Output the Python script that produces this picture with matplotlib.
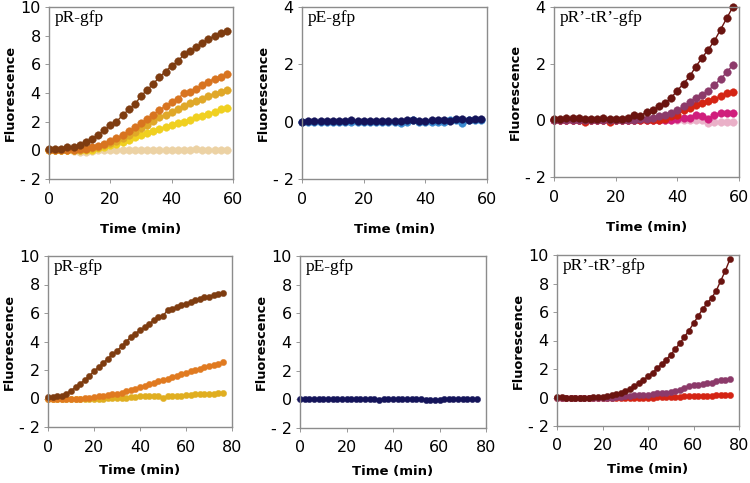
import numpy as np
import matplotlib
matplotlib.use('Agg')
import matplotlib.pyplot as plt

# time points (min)
t_top = np.arange(0, 60, 2)      # 0..58, 30 points
t_bot = np.arange(0, 78, 2)      # 0..76, 39 points

# ---- top row ----
# pR-gfp
pr1_tan = [0.05, 0.05, 0.0, 0.0, -0.05, -0.1, -0.1, -0.05, 0.0, 0.05, 0.05, 0.05, 0.0, 0.0, 0.0,
           0.0, 0.0, 0.0, 0.0, 0.0, 0.05, 0.05, 0.05, 0.05, 0.1, 0.05, 0.05, 0.05, 0.05, 0.0]
pr1_yellow = [0.05, 0.05, 0.05, 0.0, 0.0, 0.0, 0.05, 0.05, 0.15, 0.25, 0.35, 0.45, 0.6, 0.75, 0.9,
              1.05, 1.2, 1.35, 1.5, 1.65, 1.8, 1.9, 2.0, 2.15, 2.3, 2.4, 2.55, 2.7, 2.85, 2.95]
pr1_gold = [0.05, 0.05, 0.05, 0.05, 0.05, 0.05, 0.1, 0.15, 0.2, 0.35, 0.5, 0.65, 0.85, 1.05, 1.3,
            1.55, 1.8, 2.05, 2.3, 2.5, 2.7, 2.9, 3.1, 3.3, 3.45, 3.6, 3.8, 3.95, 4.1, 4.2]
pr1_orange = [0.05, 0.05, 0.05, 0.05, 0.05, 0.1, 0.1, 0.2, 0.3, 0.45, 0.65, 0.85, 1.1, 1.35, 1.6,
              1.9, 2.2, 2.5, 2.8, 3.1, 3.35, 3.6, 4.0, 4.1, 4.3, 4.55, 4.8, 5.0, 5.15, 5.3]
pr1_brown = [0.1, 0.1, 0.1, 0.2, 0.2, 0.4, 0.55, 0.8, 1.1, 1.4, 1.75, 2.0, 2.45, 2.85, 3.2,
             3.8, 4.2, 4.65, 5.1, 5.5, 5.9, 6.2, 6.7, 6.9, 7.2, 7.5, 7.75, 8.0, 8.2, 8.3]

# pE-gfp
pe1_light = [0.0, 0.0, 0.0, 0.0, 0.0, 0.0, 0.0, 0.0, 0.0, 0.0, 0.0, 0.0, 0.0, 0.0, 0.0,
             0.0, -0.05, 0.0, 0.05, 0.0, 0.0, 0.0, 0.0, 0.0, 0.05, 0.05, -0.05, 0.05, 0.05, 0.05]
pe1_navy = [0.0, 0.02, 0.02, 0.02, 0.02, 0.02, 0.02, 0.02, 0.05, 0.02, 0.02, 0.02, 0.02, 0.02, 0.02,
            0.02, 0.02, 0.05, 0.05, 0.02, 0.02, 0.05, 0.05, 0.05, 0.02, 0.1, 0.1, 0.05, 0.1, 0.08]

# pR'-tR'-gfp
prt1_pink = [0.0, 0.0, 0.0, 0.0, 0.0, 0.0, 0.0, 0.0, 0.0, 0.0, 0.0, 0.0, 0.0, 0.0, 0.0,
             0.0, 0.0, 0.0, 0.0, 0.0, 0.0, 0.0, 0.0, 0.0, 0.0, -0.1, -0.05, -0.05, -0.05, -0.05]
prt1_magenta = [0.0, 0.0, 0.0, 0.0, 0.0, 0.0, 0.0, 0.0, 0.0, 0.0, 0.0, 0.0, 0.0, 0.0, 0.0,
                0.0, 0.0, 0.0, 0.0, 0.0, 0.05, 0.1, 0.1, 0.2, 0.15, 0.05, 0.2, 0.25, 0.25, 0.25]
prt1_red = [0.0, 0.0, 0.0, 0.0, 0.0, -0.05, 0.0, 0.0, 0.0, -0.05, 0.0, 0.0, 0.0, 0.0, 0.0,
            0.0, 0.0, 0.0, 0.05, 0.15, 0.2, 0.35, 0.45, 0.55, 0.6, 0.7, 0.75, 0.85, 0.95, 1.0]
prt1_purple = [0.0, 0.0, 0.0, 0.0, 0.0, 0.0, 0.0, 0.0, 0.0, 0.0, 0.0, 0.0, 0.0, 0.0, 0.05,
               0.05, 0.1, 0.15, 0.2, 0.25, 0.35, 0.5, 0.65, 0.8, 0.9, 1.05, 1.25, 1.45, 1.7, 1.95]
prt1_maroon = [0.05, 0.05, 0.1, 0.1, 0.1, 0.05, 0.05, 0.05, 0.1, 0.05, 0.05, 0.05, 0.1, 0.2, 0.15,
               0.3, 0.35, 0.5, 0.6, 0.8, 1.05, 1.3, 1.55, 1.9, 2.2, 2.5, 2.8, 3.2, 3.6, 4.0]

# ---- bottom row ----
pr2_gold = [0.0, 0.0, 0.0, 0.0, 0.0, 0.0, 0.0, 0.0, 0.0, 0.0, 0.0, 0.0, 0.0, 0.05, 0.05,
            0.05, 0.05, 0.05, 0.1, 0.1, 0.15, 0.15, 0.15, 0.15, 0.15, 0.05, 0.15, 0.2, 0.2, 0.2,
            0.25, 0.25, 0.3, 0.3, 0.3, 0.35, 0.35, 0.4, 0.4]
pr2_orange = [0.0, 0.0, 0.0, 0.0, 0.0, 0.0, 0.0, 0.0, 0.05, 0.05, 0.1, 0.15, 0.2, 0.25, 0.3,
              0.35, 0.4, 0.5, 0.6, 0.7, 0.8, 0.9, 1.0, 1.1, 1.2, 1.3, 1.4, 1.5, 1.6, 1.7,
              1.8, 1.9, 2.0, 2.1, 2.2, 2.3, 2.35, 2.45, 2.55]
pr2_brown = [0.1, 0.1, 0.15, 0.2, 0.35, 0.55, 0.8, 1.05, 1.3, 1.6, 1.9, 2.2, 2.5, 2.8, 3.1,
             3.35, 3.65, 4.0, 4.3, 4.55, 4.8, 5.0, 5.25, 5.5, 5.7, 5.8, 6.2, 6.3, 6.4, 6.55,
             6.65, 6.8, 6.9, 7.0, 7.1, 7.15, 7.25, 7.35, 7.4]

pe2_navy = [0.0, 0.0, 0.0, 0.02, 0.02, 0.02, 0.02, 0.0, 0.02, 0.02, 0.02, 0.0, 0.02, 0.0, 0.0,
            0.0, 0.0, -0.02, 0.02, 0.0, 0.0, 0.0, 0.02, 0.02, 0.02, 0.0, 0.0, -0.02, -0.05, -0.08,
            -0.05, 0.0, 0.02, 0.0, 0.02, 0.02, 0.02, 0.0, 0.02]

prt2_red = [0.0, 0.0, 0.0, 0.0, 0.0, 0.0, 0.0, 0.0, 0.0, 0.0, 0.0, 0.0, 0.0, 0.0, 0.0,
            0.0, 0.0, 0.0, 0.0, 0.0, 0.0, 0.0, 0.05, 0.05, 0.05, 0.05, 0.05, 0.05, 0.1, 0.1,
            0.1, 0.1, 0.1, 0.1, 0.1, 0.15, 0.15, 0.15, 0.15]
prt2_purple = [0.0, 0.0, 0.0, 0.0, 0.0, 0.0, 0.0, 0.0, 0.0, 0.0, 0.0, 0.0, 0.0, 0.05, 0.05,
               0.1, 0.1, 0.15, 0.15, 0.15, 0.2, 0.25, 0.3, 0.3, 0.35, 0.4, 0.45, 0.55, 0.65, 0.8,
               0.85, 0.9, 0.95, 1.05, 1.0, 1.15, 1.2, 1.25, 1.3]
prt2_maroon = [0.05, 0.05, 0.0, 0.0, 0.0, 0.0, 0.0, 0.0, 0.05, 0.05, 0.05, 0.1, 0.2, 0.25, 0.3,
               0.45, 0.6, 0.8, 1.0, 1.2, 1.5, 1.75, 2.05, 2.35, 2.65, 3.0, 3.4, 3.8, 4.25, 4.7,
               5.2, 5.7, 6.2, 6.6, 7.0, 7.5, 8.2, 8.9, 9.7]

panels = [
    # (title, t, series [(values, colour)], ylim, yticks, xlim, xticks, marker size)
    ('pR-gfp', t_top, [(pr1_tan, '#ecd2a4'), (pr1_yellow, '#f0d020'), (pr1_gold, '#e0a828'),
                       (pr1_orange, '#d87420'), (pr1_brown, '#7e3c10')],
     (-2, 10), [-2, 0, 2, 4, 6, 8, 10], (0, 60), [0, 20, 40, 60], 5.5),
    ('pE-gfp', t_top, [(pe1_light, '#3a8ad0'), (pe1_navy, '#14145a')],
     (-2, 4), [-2, 0, 2, 4], (0, 60), [0, 20, 40, 60], 5.5),
    ('pR\u2019-tR\u2019-gfp', t_top, [(prt1_pink, '#eab0c8'), (prt1_magenta, '#d01e7c'),
                                      (prt1_red, '#d42414'), (prt1_purple, '#8c3a6a'),
                                      (prt1_maroon, '#6a1410')],
     (-2, 4), [-2, 0, 2, 4], (0, 60), [0, 20, 40, 60], 5.5),
    ('pR-gfp', t_bot, [(pr2_gold, '#e0ae20'), (pr2_orange, '#e07a20'), (pr2_brown, '#7e3c10')],
     (-2, 10), [-2, 0, 2, 4, 6, 8, 10], (0, 80), [0, 20, 40, 60, 80], 4.5),
    ('pE-gfp', t_bot, [(pe2_navy, '#14145a')],
     (-2, 10), [-2, 0, 2, 4, 6, 8, 10], (0, 80), [0, 20, 40, 60, 80], 4.5),
    ('pR\u2019-tR\u2019-gfp', t_bot, [(prt2_red, '#d42414'), (prt2_purple, '#8c3a6a'),
                                      (prt2_maroon, '#6a1410')],
     (-2, 10), [-2, 0, 2, 4, 6, 8, 10], (0, 80), [0, 20, 40, 60, 80], 4.5),
]

# axes boxes in pixels: left, top, right, bottom
boxes = [(49, 7, 233, 179), (302, 7, 487, 179), (554, 7, 739, 177),
         (48, 256, 232, 427), (300, 256, 486, 428), (557, 255, 739, 426)]
xlabel_pads = [12, 12, 12, 7, 7, 7]

W, H = 750, 483
fig = plt.figure(figsize=(W / 100, H / 100), dpi=100)

for (title, t, series, ylim, yticks, xlim, xticks, ms), (l, tp, r, b), xpad in zip(panels, boxes, xlabel_pads):
    ax = fig.add_axes([l / W, 1 - b / H, (r - l) / W, (b - tp) / H])
    for vals, col in series:
        ax.plot(t, vals, '-o', color=col, lw=1.0, ms=ms, mec=col, mew=0.3, clip_on=False)
    ax.set_xlim(*xlim)
    ax.set_ylim(*ylim)
    ax.set_xticks(xticks)
    ax.set_yticks(yticks)
    ax.set_yticklabels([str(v) if v >= 0 else '- ' + str(-v) for v in yticks])
    ax.tick_params(labelsize=11.5, length=3, width=0.6, color='#888888', pad=3)
    ax.tick_params(axis='x', pad=6)
    for s in ax.spines.values():
        s.set_color('#8c8c8c')
        s.set_linewidth(1.0)
    ax.set_xlabel('Time (min)', fontsize=9.5, fontweight='bold', labelpad=xpad)
    ax.set_ylabel('Fluorescence', fontsize=9.3, fontweight='bold', labelpad=2)
    ax.text(0.03, 0.985, title, transform=ax.transAxes, ha='left', va='top',
            family='Liberation Serif', fontsize=12.5)

fig.savefig('out.png', dpi=100)
